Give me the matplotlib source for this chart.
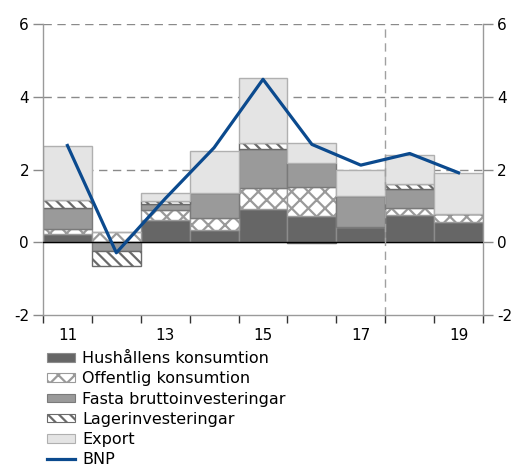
import numpy as np
import matplotlib
matplotlib.use("Agg")
import matplotlib.pyplot as plt
from matplotlib.patches import Patch
from matplotlib.lines import Line2D

years = ["11", "12", "13", "14", "15", "16", "17", "18", "19"]
hushall = [0.24, 0.00, 0.60, 0.35, 0.91, 0.71, 0.42, 0.76, 0.56]
offentlig = [0.12, 0.28, 0.28, 0.32, 0.59, 0.81, 0.00, 0.19, 0.21]
fasta = [0.59, -0.25, 0.18, 0.69, 1.07, 0.67, 0.86, 0.52, 0.02]
lager = [0.20, -0.40, 0.08, 0.00, 0.16, -0.03, 0.00, 0.14, 0.00]
export = [1.49, 0.00, 0.22, 1.15, 1.79, 0.54, 0.72, 0.80, 1.12]
bnp = [2.66, -0.29, 1.2, 2.6, 4.48, 2.69, 2.12, 2.44, 1.91]
xlabels = ["11", "13", "15", "17", "19"]

plt.rcParams['font.family'] = ['DejaVu Sans']
plt.rcParams['hatch.linewidth'] = 1.6

fig = plt.figure(figsize=(5.14, 4.67), dpi=100)
ax = fig.add_axes([43/514, 1-315/467, 440/514, 291/467])

x = np.arange(len(years))
series = [
    ("Hushållens konsumtion", hushall, dict(facecolor="#666666", edgecolor="#8c8c8c", hatch=None)),
    ("Offentlig konsumtion", offentlig, dict(facecolor="white", edgecolor="#9a9a9a", hatch="xx")),
    ("Fasta bruttoinvesteringar", fasta, dict(facecolor="#9a9a9a", edgecolor="#7a7a7a", hatch=None)),
    ("Lagerinvesteringar", lager, dict(facecolor="white", edgecolor="#6a6a6a", hatch="\\\\\\")),
    ("Export", export, dict(facecolor="#e4e4e4", edgecolor="#b0b0b0", hatch=None)),
]

pos = np.zeros(len(years))
neg = np.zeros(len(years))
handles = []
for name, vals, st in series:
    vals = np.array(vals)
    bottom = np.where(vals >= 0, pos, neg)
    ax.bar(x, vals, width=1.0, bottom=bottom, linewidth=1.0, zorder=2, **st)
    pos = pos + np.where(vals >= 0, vals, 0)
    neg = neg + np.where(vals < 0, vals, 0)
    handles.append(Patch(label=name, linewidth=0.8, **st))

ax.plot(x, bnp, color="#0b4a8e", linewidth=2.3, zorder=4)
handles.append(Line2D([0], [0], color="#0b4a8e", linewidth=2.3, label="BNP"))

for yv in [2, 4, 6]:
    ax.axhline(yv, color="#8a8a8a", linestyle=(0, (6, 4)), linewidth=1.0, zorder=1)
ax.axhline(0, color="black", linewidth=1.0, zorder=3)
ax.axvline(6.5, color="#a0a0a0", linestyle=(0, (6, 4)), linewidth=1.0, zorder=3)

ax.set_xlim(-0.5, 8.5)
ax.set_ylim(-2, 6)
ax.set_yticks([-2, 0, 2, 4, 6])
ax.set_yticklabels(["-2", "0", "2", "4", "6"])
ax.set_xticks([0, 2, 4, 6, 8])
ax.set_xticklabels(xlabels)
ax.set_xticks(np.arange(-0.5, 9, 1.0), minor=True)
ax.tick_params(axis='x', which='major', length=0, pad=9, labelsize=11)
ax.tick_params(axis='x', which='minor', length=6, width=1, color="#333333", direction='out')
ax.tick_params(axis='y', which='major', length=7, width=1, color="#8a8a8a", direction='out',
               left=True, right=True, labelleft=True, labelright=True, labelsize=11, pad=3)

for s in ['left', 'right', 'bottom']:
    ax.spines[s].set_color("#9a9a9a")
    ax.spines[s].set_linewidth(1.0)
ax.spines['top'].set_visible(False)

fig.legend(handles=handles, loc='upper left', bbox_to_anchor=(47/514, 1-351/467),
           frameon=False, fontsize=11.5, handlelength=1.75, handleheight=0.45,
           handletextpad=0.45, labelspacing=0.33, borderaxespad=0, borderpad=0)

fig.savefig("out.png", dpi=100)
